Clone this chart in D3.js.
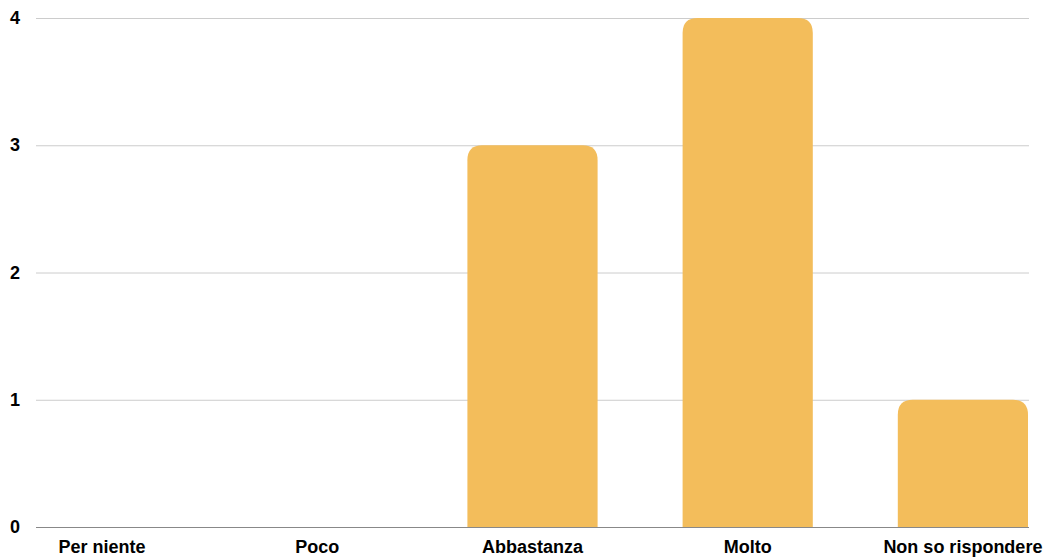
<!DOCTYPE html>
<html><head><meta charset="utf-8">
<script src="https://cdn.jsdelivr.net/npm/d3@7"></script>
<style>body{margin:0;background:#fff}svg{display:block}</style>
</head><body>
<script>
const categories = ["Per niente","Poco","Abbastanza","Molto","Non so rispondere"];
const values = [0,0,3,4,1];
const yTicks = [0,1,2,3,4];

const W=1047,H=558;
const svg=d3.select("body").append("svg").attr("width",W).attr("height",H);
const x=d3.scaleBand().domain(categories).range([37,1028]).paddingInner(0.395).paddingOuter(0);
const y=d3.scaleLinear().domain([0,4]).range([527,18]);

svg.append("g").selectAll("line").data(yTicks.filter(d=>d>0)).join("line")
  .attr("x1",36).attr("x2",1029).attr("y1",d=>y(d)+0.5).attr("y2",d=>y(d)+0.5)
  .attr("stroke","#cccccc").attr("stroke-width",1);

svg.append("g").selectAll("text").data(yTicks).join("text")
  .attr("x",15).attr("y",d=>y(d)+6).attr("text-anchor","middle")
  .attr("font-family","Liberation Sans, Arial, sans-serif").attr("font-weight","bold")
  .attr("font-size",18).attr("fill","#000").text(d=>d);

const r=15;
svg.append("g").selectAll("path").data(categories.map((c,i)=>({c,v:values[i]})).filter(d=>d.v>0)).join("path")
  .attr("fill","#F3BD5B")
  .attr("d",d=>{
    const x0=x(d.c),x1=x0+x.bandwidth(),yt=y(d.v),yb=y(0);
    return `M${x0},${yb}V${yt+r}Q${x0},${yt} ${x0+r},${yt}H${x1-r}Q${x1},${yt} ${x1},${yt+r}V${yb}Z`;
  });

svg.append("line").attr("x1",36).attr("x2",1029).attr("y1",y(0)+0.5).attr("y2",y(0)+0.5)
  .attr("stroke","#888888").attr("stroke-width",1);

svg.append("g").selectAll("text").data(categories).join("text")
  .attr("x",d=>x(d)+x.bandwidth()/2).attr("y",553).attr("text-anchor","middle")
  .attr("font-family","Liberation Sans, Arial, sans-serif").attr("font-weight","bold")
  .attr("font-size",18).attr("fill","#000").text(d=>d);
</script>
</body></html>
